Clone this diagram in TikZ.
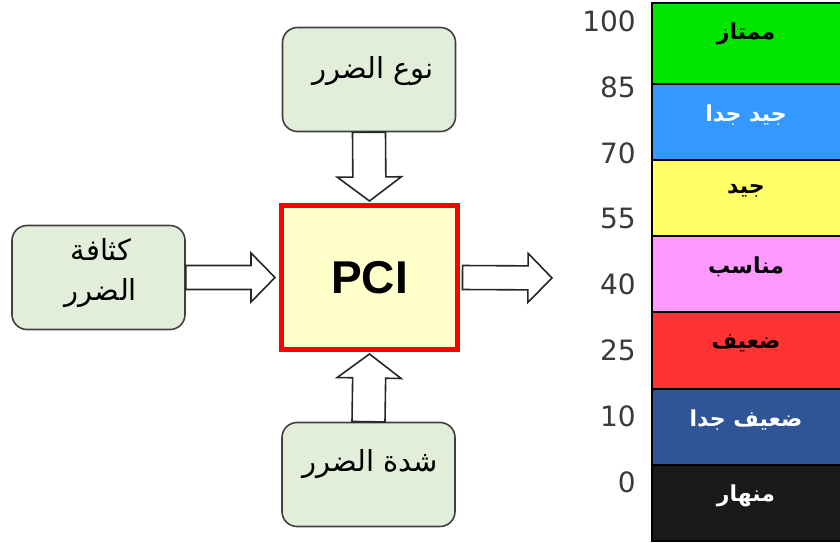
\documentclass[tikz,border=0pt]{standalone}
\usepackage{fontspec}
\setmainfont{DejaVu Sans}
\newfontfamily\arabicfont[Script=Arabic]{DejaVu Sans}
\newfontfamily\pcifont{Liberation Sans}
\TeXXeTstate=1
\usetikzlibrary{calc}

\definecolor{boxgreen}{HTML}{E2EED9}
\definecolor{pciyellow}{HTML}{FFFFCC}
\definecolor{pcired}{HTML}{FF0000}
\definecolor{bandgreen}{HTML}{00E600}
\definecolor{bandblue}{HTML}{3399FF}
\definecolor{bandyellow}{HTML}{FFFF66}
\definecolor{bandpink}{HTML}{FF99FF}
\definecolor{bandred}{HTML}{FF3333}
\definecolor{banddblue}{HTML}{2F5597}
\definecolor{bandblack}{HTML}{1A1A1A}
\definecolor{numgray}{HTML}{3A3A3A}

\tikzset{
  factor/.style={draw=black!75, line width=1.6pt, fill=boxgreen, rounded corners=15pt,
    minimum width=173pt, minimum height=104pt, inner sep=0pt},
  factortext/.style={font=\arabicfont\fontsize{29}{40}\selectfont, align=center},
  pcibox/.style={draw=pcired, line width=5pt, fill=pciyellow,
    minimum width=176pt, minimum height=144pt, inner sep=0pt,
    font=\pcifont\bfseries\fontsize{46}{50}\selectfont},
  blockarrow/.style 2 args={draw=black!85, line width=1.6pt, fill=white, to path={
    let \p1=(\tikztostart), \p2=(\tikztotarget),
        \n1={atan2(\y2-\y1,\x2-\x1)}, \n2={veclen(\x2-\x1,\y2-\y1)} in
    [shift={(\p1)}, rotate=\n1]
    (0,-#1) -- (\n2-24,-#1) -- (\n2-24,-#2) -- (\n2,0) -- (\n2-24,#2) -- (\n2-24,#1) -- (0,#1) -- cycle}},
  grade/.style={font=\arabicfont\bfseries\fontsize{22}{24}\selectfont},
  score/.style={font=\fontsize{28}{30}\selectfont, text=numgray, anchor=east, inner sep=0pt},
}

\begin{document}
\begin{tikzpicture}[x=1pt, y=-1pt]
\useasboundingbox (0,0) rectangle (840,542);

% the three factors
\node[factor] (type) at (369,79.5) {};
\node[factor] (dens) at (98.5,277.5) {};
\node[factor] (sev)  at (368.5,474.5) {};
\node[factortext] (typetext) at (373,71) {\beginR نوع الضرر\endR};
\node[factortext] (denstext) at (101,273) {\beginR كثافة\endR\\\beginR الضرر\endR};
\node[factortext] (sevtext)  at (370,464) {\beginR شدة الضرر\endR};

\node[pcibox] (pci) at (369.5,277.5) {PCI};
\coordinate (out) at (552,278);

\draw[blockarrow={16.5}{32}] (type.south) to ($(pci.north)+(0,-2)$);
\draw[blockarrow={16.5}{32}] (sev.north) to ($(pci.south)+(0,2)$);
\draw[blockarrow={12}{24.5}] (dens.east) to ($(pci.west)+(-4,0)$);
\draw[blockarrow={12}{24.5}] ($(pci.east)+(2.5,0)$) to (out);

% rating scale
\foreach \top/\bot/\col/\txt/\tcol [count=\i] in
  {3/84/bandgreen/ممتاز/black, 84/160/bandblue/جيد جدا/white,
   160/236/bandyellow/جيد/black, 236/312/bandpink/مناسب/black,
   312/389/bandred/ضعيف/black, 389/465/banddblue/ضعيف جدا/white,
   465/541/bandblack/منهار/white}{
\draw[line width=2pt, fill=\col] (652,\top) rectangle (846,\bot);
\node[grade, text=\tcol] (grade\i) at (746,\top+31) {\beginR\txt\endR};
}

\foreach \v [count=\i from 0] in {100,85,70,55,40,25,10,0}{
\node[score] (num\i) at (636,21+65.9*\i) {\v};
}
\end{tikzpicture}
\end{document}
